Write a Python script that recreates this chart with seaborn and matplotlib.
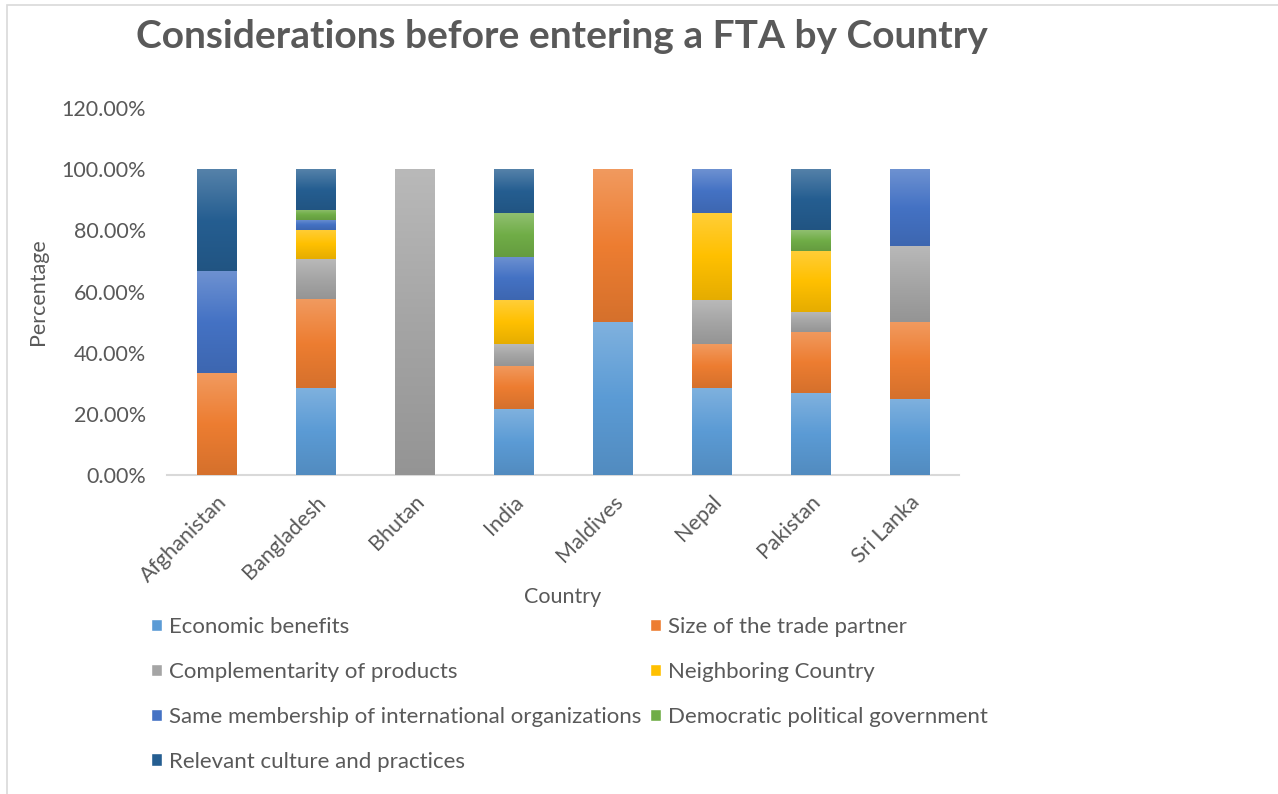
import numpy as np
import pandas as pd
import seaborn as sns
import matplotlib.pyplot as plt
from matplotlib.colors import to_rgb
from matplotlib.patches import Rectangle
from matplotlib.ticker import FuncFormatter

# ---- data (percent of responses per country) ----
countries = ["Afghanistan", "Bangladesh", "Bhutan", "India",
             "Maldives", "Nepal", "Pakistan", "Sri Lanka"]
factors = ["Economic benefits", "Size of the trade partner",
           "Complementarity of products", "Neighboring Country",
           "Same membership of international organizations",
           "Democratic political government",
           "Relevant culture and practices"]

economic_benefits = [0.0, 28.5, 0.0, 21.43, 50.0, 28.57, 26.67, 25.0]
trade_partner_size = [33.33, 29.0, 0.0, 14.29, 50.0, 14.29, 20.0, 25.0]
complementarity = [0.0, 13.0, 100.0, 7.14, 0.0, 14.29, 6.67, 25.0]
neighboring = [0.0, 9.5, 0.0, 14.29, 0.0, 28.57, 20.0, 0.0]
same_membership = [33.33, 3.3, 0.0, 14.29, 0.0, 14.29, 0.0, 25.0]
democratic_gov = [0.0, 3.3, 0.0, 14.29, 0.0, 0.0, 6.67, 0.0]
culture_practices = [33.34, 13.4, 0.0, 14.28, 0.0, 0.0, 20.0, 0.0]

series = [economic_benefits, trade_partner_size, complementarity, neighboring,
          same_membership, democratic_gov, culture_practices]
colors = ["#5B9BD5", "#ED7D31", "#A5A5A5", "#FFC000",
          "#4472C4", "#70AD47", "#255E91"]

df = pd.DataFrame({"Country": countries})
for name, vals in zip(factors, series):
    df[name] = vals

# ---- style ----
sns.set_theme(style="white")
plt.rcParams["font.family"] = ["Lato", "DejaVu Sans"]
text_color = "#595959"

W, H = 1278, 794
fig = plt.figure(figsize=(W / 100, H / 100), dpi=100)
ax = fig.add_axes([167 / W, 1 - 475 / H, (959 - 167) / W, (475 - 108) / H])

# chart border
fig.patches.append(Rectangle((7 / W, -0.1), 1.2, 1 - 5 / H + 0.1,
                             transform=fig.transFigure, fill=False,
                             edgecolor="#D9D9D9", linewidth=1.2))


def mix(c, other, t):
    c = np.array(to_rgb(c))
    return tuple(c * (1 - t) + np.array(other) * t)


# ---- stacked bars ----
bottom = np.zeros(len(countries))
layers = []
for name, col in zip(factors, colors):
    n_before = len(ax.patches)
    sns.barplot(data=df, x="Country", y=name, bottom=bottom, color=col,
                saturation=1, width=0.4, ax=ax, label=name, zorder=2)
    layers.append((col, ax.patches[n_before:]))
    bottom = bottom + df[name].to_numpy()

handles, labels = ax.get_legend_handles_labels()
if ax.get_legend() is not None:
    ax.get_legend().remove()

# vertical gradient fill on each segment (lighter top, darker bottom)
for col, patches in layers:
    top_c = mix(col, (1, 1, 1), 0.22)
    mid_c = to_rgb(col)
    bot_c = mix(col, (0, 0, 0), 0.10)
    grad = np.array([top_c, mid_c, bot_c])
    ys = np.linspace(0, 1, 64)
    img = np.empty((64, 1, 3))
    for k in range(3):
        img[:, 0, k] = np.interp(ys, [0, 0.5, 1], grad[:, k])
    for p in patches:
        if p.get_height() <= 0:
            continue
        x0, y0 = p.get_x(), p.get_y()
        x1, y1 = x0 + p.get_width(), y0 + p.get_height()
        im = ax.imshow(img, extent=(x0, x1, y0, y1), origin="upper",
                       aspect="auto", zorder=3, interpolation="bilinear")
        im.set_clip_path(p)

ax.set_xlim(-0.5, len(countries) - 0.5)
ax.set_ylim(0, 120)
ax.set_yticks(np.arange(0, 121, 20))
ax.yaxis.set_major_formatter(FuncFormatter(lambda v, _: f"{v:.2f}%"))

for s in ["top", "right", "left"]:
    ax.spines[s].set_visible(False)
ax.spines["bottom"].set_color("#D9D9D9")
ax.spines["bottom"].set_linewidth(1.5)
ax.spines["bottom"].set_zorder(1)
ax.tick_params(axis="both", length=0, labelsize=15.5, labelcolor=text_color)
ax.tick_params(axis="y", pad=15)
plt.setp(ax.get_xticklabels(), rotation=45, ha="right",
         rotation_mode="anchor")
ax.tick_params(axis="x", pad=12)

ax.set_xlabel("Country", fontsize=15.5, color=text_color, labelpad=1)
ax.set_ylabel("Percentage", fontsize=15.5, color=text_color, labelpad=10)

# title
fig.text(562 / W, 1 - 37 / H, "Considerations before entering a FTA by Country",
         ha="center", va="center", fontsize=28, fontweight="bold",
         color=text_color)

# legend: row-major order in two columns
order = [0, 2, 4, 6, 1, 3, 5]
leg = fig.legend([handles[i] for i in order], [labels[i] for i in order],
                 loc="upper left", bbox_to_anchor=(151 / W, 1 - 617 / H),
                 ncol=2, frameon=False, fontsize=16, borderpad=0,
                 borderaxespad=0,
                 handlelength=0.5, handleheight=0.5, handletextpad=0.3,
                 columnspacing=0.4, labelspacing=1.12, labelcolor=text_color)

fig.savefig("out.png", dpi=100, facecolor="white")
